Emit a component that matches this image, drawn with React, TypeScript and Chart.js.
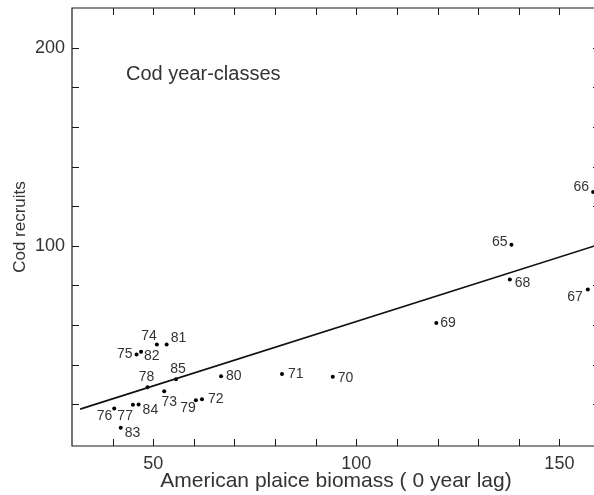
import { useEffect, useRef } from "react";
import { Chart, registerables } from "chart.js";

Chart.register(...registerables);

// ---- data ----
const years = ["65", "66", "67", "68", "69", "70", "71", "72", "73", "74", "75", "76", "77", "78", "79", "80", "81", "82", "83", "84", "85"];
const biomass = [138.2, 158.3, 157.0, 137.8, 119.7, 94.2, 81.7, 62.0, 52.7, 50.9, 45.9, 40.4, 45.0, 48.6, 60.5, 66.7, 53.3, 47.0, 42.0, 46.4, 55.6];
const recruits = [100.5, 127.2, 78.0, 83.0, 61.0, 33.9, 35.3, 22.6, 26.6, 50.2, 45.2, 17.9, 19.8, 28.7, 22.1, 34.2, 50.2, 46.5, 8.2, 20.0, 32.7];
const fitX = [32, 160];
const fitY = [17.6, 100.8];
const xTickMarks = [40, 50, 60, 70, 80, 90, 100, 110, 120, 130, 140, 150];
const yTickMarks = [20, 40, 60, 80, 100, 120, 140, 160, 180, 200];
const xTickLabels = [50, 100, 150];
const yTickLabels = [100, 200];
const xTitle = "American plaice biomass ( 0 year lag)";
const yTitle = "Cod recruits";
const noteText = "Cod year-classes";

// label placement (dx, dy in px, alignment) per year label
const labelPlacement: [number, number, CanvasTextAlign][] = [
  [-4, -3, "right"], [-4, -5, "right"], [-5, 8, "right"], [5, 4, "left"], [4, 0, "left"],
  [5, 1, "left"], [6, 0, "left"], [6, 0, "left"], [5, 11, "center"], [0, -8, "right"],
  [-4, 0, "right"], [-2, 8, "right"], [0, 11, "right"], [-1, -10, "center"], [0, 8, "right"],
  [5, 0, "left"], [4, -6, "left"], [3, 4, "left"], [4, 5, "left"], [4, 6, "left"], [2, -10, "center"],
];

const FONT = "'Liberation Sans', Arial, Helvetica, sans-serif";
const TEXT = "#333";
const AXIS = "#1a1a1a";

const framePlugin = {
  id: "frame",
  afterDraw(chart: any) {
    const { ctx, chartArea: a, scales } = chart;
    const xs = scales.x;
    const ys = scales.y;
    const tl = 7;
    ctx.save();
    ctx.strokeStyle = AXIS;
    ctx.lineWidth = 1.2;
    ctx.beginPath();
    ctx.moveTo(a.left, a.top);
    ctx.lineTo(a.left, a.bottom);
    ctx.lineTo(a.right, a.bottom);
    ctx.lineTo(a.right, a.top);
    ctx.closePath();
    ctx.stroke();
    ctx.lineWidth = 1;
    ctx.beginPath();
    for (const v of xTickMarks) {
      const px = Math.round(xs.getPixelForValue(v)) + 0.5;
      ctx.moveTo(px, a.bottom);
      ctx.lineTo(px, a.bottom - tl);
      ctx.moveTo(px, a.top);
      ctx.lineTo(px, a.top + tl);
    }
    for (const v of yTickMarks) {
      const py = Math.round(ys.getPixelForValue(v)) + 0.5;
      ctx.moveTo(a.left, py);
      ctx.lineTo(a.left + tl, py);
      ctx.moveTo(a.right, py);
      ctx.lineTo(a.right - tl, py);
    }
    ctx.stroke();
    ctx.restore();
  },
  afterDatasetsDraw(chart: any) {
    const { ctx, scales } = chart;
    const meta = chart.getDatasetMeta(1);
    ctx.save();
    ctx.fillStyle = TEXT;
    ctx.textBaseline = "middle";
    ctx.font = `14px ${FONT}`;
    meta.data.forEach((pt: any, i: number) => {
      const [dx, dy, al] = labelPlacement[i];
      ctx.textAlign = al;
      ctx.fillText(years[i], pt.x + dx, pt.y + dy);
    });
    ctx.font = `20px ${FONT}`;
    ctx.textAlign = "left";
    ctx.fillText(noteText, scales.x.getPixelForValue(43.3), scales.y.getPixelForValue(186.5));
    ctx.restore();
  },
};

export default function App() {
  const ref = useRef<HTMLCanvasElement | null>(null);
  useEffect(() => {
    if (!ref.current) return;
    const chart = new Chart(ref.current, {
      type: "scatter",
      data: {
        datasets: [
          {
            type: "line",
            data: fitX.map((x, i) => ({ x, y: fitY[i] })),
            borderColor: "#111",
            borderWidth: 1.6,
            pointRadius: 0,
            fill: false,
          } as any,
          {
            type: "scatter",
            data: biomass.map((x, i) => ({ x, y: recruits[i] })),
            backgroundColor: "#000",
            borderWidth: 0,
            pointRadius: 2,
          },
        ],
      },
      options: {
        responsive: false,
        animation: false,
        devicePixelRatio: 1,
        layout: { padding: { left: 0, top: 8, right: 10, bottom: 0 } },
        plugins: { legend: { display: false }, tooltip: { enabled: false } },
        scales: {
          x: {
            type: "linear",
            min: 30,
            max: 160,
            afterBuildTicks: (s: any) => {
              s.ticks = xTickLabels.map((v) => ({ value: v }));
            },
            afterFit: (s: any) => {
              s.height = 49;
              s.paddingLeft = 0;
              s.paddingRight = 0;
            },
            ticks: { font: { size: 18, family: FONT }, color: TEXT, padding: 7, autoSkip: false, maxRotation: 0 },
            grid: { display: false, drawTicks: false, tickLength: 0 },
            border: { display: false },
            title: { display: true, text: xTitle, font: { size: 21, family: FONT }, color: TEXT, padding: { top: 0, bottom: 1 } },
          },
          y: {
            type: "linear",
            min: -1,
            max: 220,
            afterBuildTicks: (s: any) => {
              s.ticks = yTickLabels.map((v) => ({ value: v }));
            },
            afterFit: (s: any) => {
              s.width = 72;
              s.paddingTop = 0;
              s.paddingBottom = 0;
            },
            ticks: { font: { size: 18, family: FONT }, color: TEXT, padding: 7, autoSkip: false },
            grid: { display: false, drawTicks: false, tickLength: 0 },
            border: { display: false },
            title: { display: true, text: yTitle, font: { size: 17, family: FONT }, color: TEXT, padding: { top: 10, bottom: 0 } },
          },
        },
      },
      plugins: [framePlugin],
    });
    return () => chart.destroy();
  }, []);
  return (
    <div style={{ position: "fixed", left: 0, top: 0, width: 594, height: 495, overflow: "hidden", background: "#fff" }}>
      <canvas ref={ref} width={610} height={495} style={{ display: "block" }} />
    </div>
  );
}
